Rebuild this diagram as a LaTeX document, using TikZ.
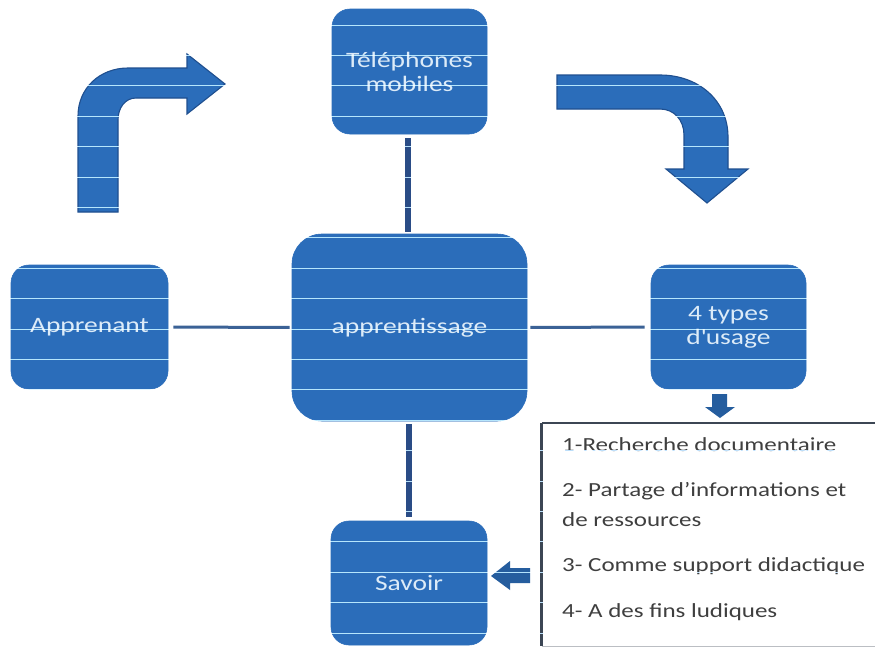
\documentclass[tikz,border=0pt]{standalone}
\usepackage{fontspec}
\setmainfont[FakeStretch=1.25]{Carlito}
\definecolor{boxblue}{HTML}{2B6DBA}
\definecolor{edgeblue}{HTML}{1F4F8F}
\definecolor{navyline}{HTML}{2A4C86}
\definecolor{midline}{HTML}{3B6296}
\definecolor{stripe}{HTML}{A6D2F7}
\definecolor{listtext}{HTML}{3F3F3F}
\definecolor{listedge}{HTML}{3C4654}
\definecolor{boxtext}{HTML}{DCEBF8}
\tikzset{
  bluebox/.style={fill=boxblue,draw=boxblue,line width=.6pt,inner sep=0pt,text=boxtext,align=center,font=\fontsize{22}{24}\selectfont},
  bigarrow/.style={fill=boxblue,draw=edgeblue,line width=1.1pt,line join=miter},
  smallarrow/.style={fill=boxblue!85!black,draw=none},
  thickconn/.style={draw=navyline,line width=6pt},
  thinconn/.style={draw=midline,line width=3pt},
  listitem/.style={anchor=west,inner sep=0pt,text=listtext,font=\fontsize{20}{22}\selectfont},
}
\begin{document}
\begin{tikzpicture}[x=1pt,y=-1pt]
\useasboundingbox (0,0) rectangle (875,646);
\fill[white] (0,0) rectangle (875,646);
% boxes
\node[bluebox,rounded corners=18pt,minimum width=155pt,minimum height=125pt] (tel) at (409.5,71.5) {Téléphones\\mobiles};
\node[bluebox,rounded corners=30pt,minimum width=235pt,minimum height=187pt] (app) at (409.5,327.5) {apprentissage};
\node[bluebox,rounded corners=18pt,minimum width=157pt,minimum height=124pt] (appr) at (89.5,327) {Apprenant};
\node[bluebox,rounded corners=18pt,minimum width=155pt,minimum height=124pt] (usage) at (728.5,327) {4 types\\d\textquotesingle usage};
\node[bluebox,rounded corners=18pt,minimum width=156pt,minimum height=124pt] (sav) at (409,583) {Savoir};
% connectors
\draw[thickconn,shorten <=4pt,shorten >=2pt] ([xshift=-1.5pt]tel.south) -- ([xshift=-1.5pt]app.north);
\draw[thickconn,shorten <=3pt,shorten >=4pt] ([xshift=-1pt]app.south) -- ([xshift=-.5pt]sav.north);
\draw[thinconn,shorten <=5pt,shorten >=2pt] (appr.east) -- (app.west);
\draw[thinconn,shorten <=3pt,shorten >=6pt] (app.east) -- (usage.west);
% bent arrows
\draw[bigarrow] (78,212) -- (78,116) .. controls (78,88) and (100,68) .. (128,68) -- (187,68) -- (187,54) -- (225,84) -- (187,114) -- (187,98) -- (136,98) .. controls (125,98) and (118,108) .. (118,120) -- (118,212) -- cycle;
\draw[bigarrow] (557,75) -- (660,75) .. controls (698,75) and (728,100) .. (728,137) -- (728,169) -- (748,169) -- (707,203) -- (666,169) -- (684,169) -- (684,135) .. controls (684,120) and (674,109) .. (660,109) -- (557,109) -- cycle;
% list panel
\node[fill=white,draw=listedge!35,line width=.8pt,inner sep=0pt,minimum width=333pt,minimum height=223pt] (list) at (708.5,534.5) {};
\draw[draw=listedge,line width=2pt] (list.north east) -- (list.north west);
\draw[draw=listedge,line width=3pt] (list.north west) -- (list.south west);
\node[listitem] (l1) at (562,445) {1-Recherche documentaire};
\node[listitem] (l2) at (562,491) {2- Partage d’informations et};
\node[listitem] (l2b) at (562,520) {de ressources};
\node[listitem] (l3) at (562,566) {3- Comme support didactique};
\node[listitem] (l4) at (562,612) {4- A des fins ludiques};
% small arrows
\fill[smallarrow] (712,394) -- (727,394) -- (727,407) -- (735,407) -- (720,418) -- (705,407) -- (712,407) -- cycle;
\fill[smallarrow] (530,568) -- (530,583) -- (510,583) -- (510,590) -- (491,576) -- (510,561) -- (510,568) -- cycle;
% horizontal scan stripes, visible only on dark areas
\begin{scope}[blend mode=screen]
\foreach \k in {0,...,20} {
  \draw[stripe,line width=1pt] (0,25+30.4*\k) -- (875,25+30.4*\k);
}
\end{scope}
\end{tikzpicture}
\end{document}
